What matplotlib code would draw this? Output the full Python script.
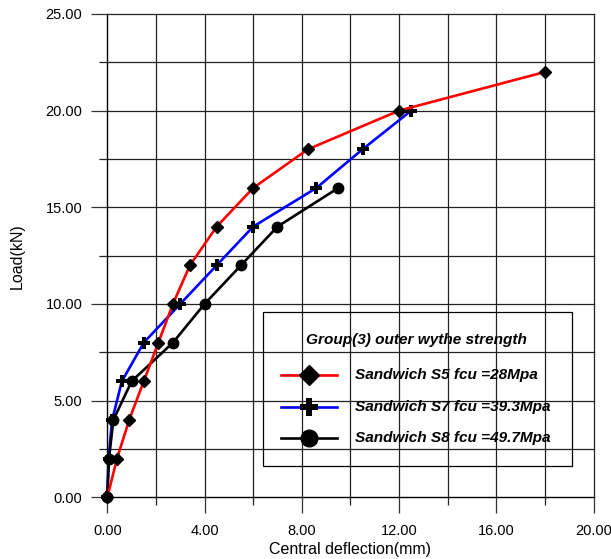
import matplotlib
matplotlib.use("Agg")
import matplotlib.pyplot as plt
from matplotlib.lines import Line2D
from matplotlib.patches import Rectangle

plt.rcParams['font.family'] = ['Liberation Sans', 'DejaVu Sans']

# Data
s5_x = [0.0, 0.4, 0.9, 1.5, 2.1, 2.7, 3.4, 4.5, 6.0, 8.25, 12.0, 18.0]
s5_y = [0, 2, 4, 6, 8, 10, 12, 14, 16, 18, 20, 22]
s7_x = [0.0, 0.05, 0.2, 0.6, 1.5, 3.0, 4.5, 6.0, 8.6, 10.5, 12.5]
s7_y = [0, 2, 4, 6, 8, 10, 12, 14, 16, 18, 20]
s8_x = [0.0, 0.07, 0.25, 1.0, 2.7, 4.0, 5.5, 7.0, 9.5]
s8_y = [0, 2, 4, 6, 8, 10, 12, 14, 16]

labels = ["Sandwich S5 fcu =28Mpa", "Sandwich S7 fcu =39.3Mpa", "Sandwich S8 fcu =49.7Mpa"]
legend_title = "Group(3) outer wythe strength"
x_major = [0, 4, 8, 12, 16, 20]
x_minor = [2, 6, 10, 14, 18]
y_major = [0, 5, 10, 15, 20, 25]
y_minor = [2.5, 7.5, 12.5, 17.5, 22.5]

fig = plt.figure(figsize=(6.11, 5.59), dpi=100)
ax = fig.add_axes([0.1756, 0.1104, 0.7958, 0.8646])
ax.set_xlim(0, 20)
ax.set_ylim(0, 25)

# grid lines
grid_kw = dict(color='#222222', lw=0.9, zorder=1, clip_on=False)
for v in x_major + x_minor:
    if v > 0:
        ax.axvline(v, **grid_kw)
for v in y_major + y_minor:
    if v > 0:
        ax.axhline(v, **grid_kw)

for s in ['top', 'right']:
    ax.spines[s].set_visible(False)
for s in ['left', 'bottom']:
    ax.spines[s].set_linewidth(1.0)

ax.set_xticks(x_major)
ax.set_xticklabels([f"{v:.2f}" for v in x_major])
ax.set_xticks(x_minor, minor=True)
ax.set_yticks(y_major)
ax.set_yticklabels([f"{v:.2f}" for v in y_major])
ax.set_yticks(y_minor, minor=True)
ax.tick_params(which='major', direction='out', length=11.5, width=0.9, labelsize=10.5, color='#333333')
ax.tick_params(axis='x', which='major', pad=8)
ax.tick_params(axis='y', which='major', pad=6.5)
ax.tick_params(which='minor', direction='out', length=5.8, width=0.9, color='#222222')

ax.set_xlabel("Central deflection(mm)", fontsize=11.5, labelpad=2.7)
ax.set_ylabel("Load(kN)", fontsize=11.5, labelpad=15)

lw = 1.9
ax.plot(s7_x, s7_y, color='#0000ff', lw=lw, marker='P', ms=8, mfc='black', mec='black', mew=0, zorder=3, clip_on=False)
ax.plot(s8_x, s8_y, color='black', lw=lw, marker='o', ms=7.5, mfc='black', mec='black', zorder=4, clip_on=False)
ax.plot(s5_x, s5_y, color='#ff0000', lw=lw, marker='D', ms=6, mfc='black', mec='black', zorder=5, clip_on=False)

# legend (transparent, grid shows through)
tr = ax.transAxes
x0, x1 = 0.32, 0.955
yb, yt = 0.065, 0.384
ax.add_patch(Rectangle((x0, yb), x1 - x0, yt - yb, transform=tr, fill=False, ec='black', lw=0.9, zorder=6))
ax.text(0.636, 0.326, legend_title, transform=tr, ha='center', va='center', fontsize=11.1,
        fontweight='bold', fontstyle='italic', zorder=7)
rows = [0.252, 0.187, 0.123]
styles = [('#ff0000', 'D', 10), ('#0000ff', 'P', 13), ('black', 'o', 12)]
for (c, m, ms), yy, lab in zip(styles, rows, labels):
    ax.add_line(Line2D([0.357, 0.472], [yy, yy], transform=tr, color=c, lw=lw, zorder=7))
    ax.add_line(Line2D([0.4145], [yy], transform=tr, marker=m, ms=ms, mfc='black', mec='black', mew=0 if m == 'P' else 1, ls='none', zorder=8))
    ax.text(0.51, yy, lab, transform=tr, ha='left', va='center', fontsize=11.1,
            fontweight='bold', fontstyle='italic', zorder=7)

fig.savefig("out.png", dpi=100)
